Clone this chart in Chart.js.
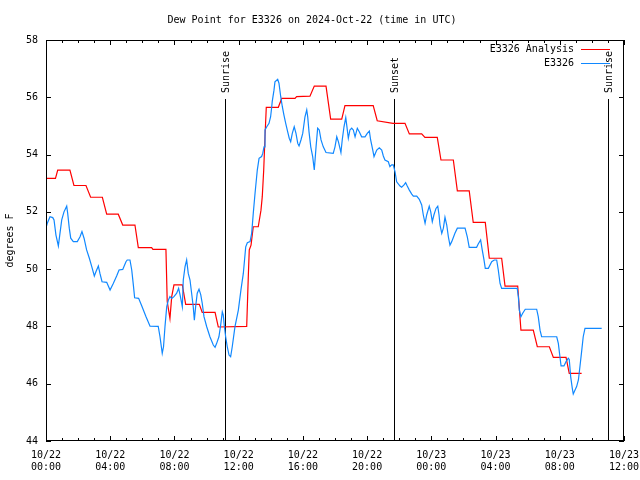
<!DOCTYPE html>
<html>
<head>
<meta charset="utf-8">
<script src="https://cdn.jsdelivr.net/npm/chart.js@4/dist/chart.umd.min.js"></script>
<style>
  html, body { margin: 0; padding: 0; background: #fff; }
  #chart { display: block; }
</style>
</head>
<body>
<canvas id="chart" width="640" height="480"></canvas>
<script>
// --- data (hours since 10/22 00:00 UTC, dew point in F) ---
const analysisHours = [0.00, 0.59, 0.73, 1.49, 1.74, 2.49, 2.78, 3.51, 3.78, 4.50, 4.78, 5.54, 5.75, 6.58, 6.66, 7.47,
  7.55, 7.72, 7.83, 7.97, 8.49, 8.70, 9.55, 9.73, 10.53, 10.73, 12.50, 12.56, 12.60, 12.66, 12.77, 12.91, 13.22,
  13.39, 13.47, 13.56, 13.64, 13.72, 14.47, 14.68, 15.51, 15.61, 16.44, 16.71, 17.44, 17.73, 18.42, 18.62, 20.38,
  20.63, 21.61, 22.36, 22.63, 23.40, 23.60, 24.37, 24.60, 25.37, 25.62, 26.36, 26.61, 27.36, 27.61, 28.38, 28.59,
  29.38, 29.58, 30.35, 30.60, 31.35, 31.60, 32.39, 32.59, 33.36];
const analysisValues = [53.17, 53.17, 53.46, 53.46, 52.92, 52.92, 52.51, 52.51, 51.92, 51.92, 51.54, 51.54, 50.75, 50.75, 50.69, 50.69,
  48.87, 48.28, 49.04, 49.45, 49.45, 48.77, 48.77, 48.49, 48.49, 47.98, 48.00, 49.04, 49.74, 50.67, 50.84, 51.48, 51.48,
  52.06, 52.53, 53.46, 54.62, 55.65, 55.65, 55.96, 55.96, 56.02, 56.04, 56.39, 56.39, 55.24, 55.24, 55.71, 55.71,
  55.18, 55.09, 55.09, 54.72, 54.72, 54.60, 54.60, 53.81, 53.81, 52.73, 52.73, 51.63, 51.63, 50.38, 50.38, 49.41,
  49.41, 47.87, 47.87, 47.29, 47.29, 46.92, 46.92, 46.36, 46.36];

const obsHours = [0.00, 0.08, 0.25, 0.42, 0.50, 0.62, 0.77, 0.87, 0.98, 1.12, 1.29, 1.35, 1.45, 1.54, 1.70, 1.95,
  2.12, 2.24, 2.37, 2.53, 2.70, 2.85, 3.01, 3.11, 3.26, 3.36, 3.49, 3.78, 3.99, 4.19, 4.40, 4.55, 4.78, 4.98, 5.06,
  5.23, 5.34, 5.44, 5.52, 5.77, 5.96, 6.23, 6.48, 6.99, 7.10, 7.24, 7.32, 7.41, 7.52, 7.62, 7.72, 7.83, 7.97, 8.14,
  8.26, 8.35, 8.49, 8.55, 8.66, 8.76, 8.86, 8.97, 9.07, 9.17, 9.24, 9.32, 9.42, 9.53, 9.64, 9.73, 9.84, 10.01, 10.21,
  10.42, 10.53, 10.63, 10.77, 10.88, 10.98, 11.04, 11.10, 11.19, 11.29, 11.40, 11.50, 11.60, 11.77, 11.98, 12.14,
  12.29, 12.44, 12.54, 12.71, 12.81, 12.91, 13.02, 13.16, 13.27, 13.43, 13.50, 13.58, 13.64, 13.75, 13.89, 13.99,
  14.06, 14.09, 14.20, 14.26, 14.43, 14.51, 14.62, 14.72, 14.82, 14.93, 15.05, 15.15, 15.24, 15.34, 15.46, 15.57,
  15.68, 15.76, 15.88, 15.99, 16.13, 16.24, 16.30, 16.38, 16.49, 16.61, 16.71, 16.82, 16.92, 17.02, 17.13, 17.27,
  17.44, 17.89, 18.00, 18.11, 18.21, 18.31, 18.37, 18.45, 18.56, 18.67, 18.73, 18.83, 18.93, 19.04, 19.14, 19.25,
  19.39, 19.51, 19.66, 19.87, 20.01, 20.14, 20.22, 20.35, 20.43, 20.60, 20.76, 20.91, 21.01, 21.11, 21.32, 21.42,
  21.53, 21.63, 21.74, 21.84, 22.05, 22.15, 22.30, 22.40, 22.50, 22.63, 22.78, 22.88, 23.09, 23.25, 23.40, 23.50,
  23.61, 23.71, 23.87, 23.96, 24.06, 24.16, 24.29, 24.40, 24.48, 24.54, 24.65, 24.75, 24.85, 24.96, 25.06, 25.16,
  25.27, 25.47, 25.62, 26.10, 26.24, 26.36, 26.82, 26.92, 27.07, 27.17, 27.28, 27.36, 27.55, 27.76, 27.92, 28.07,
  28.17, 28.28, 28.38, 29.35, 29.42, 29.48, 29.58, 29.69, 29.85, 30.56, 30.66, 30.77, 30.87, 31.81, 31.91, 32.01,
  32.08, 32.26, 32.39, 32.53, 32.59, 32.68, 32.78, 32.84, 32.95, 33.05, 33.16, 33.26, 33.36, 33.46, 33.57, 34.61];
const obsValues = [51.44, 51.60, 51.83, 51.80, 51.72, 51.19, 50.81, 51.25, 51.72, 52.00, 52.20, 51.95, 51.43, 51.08, 50.96, 50.96,
  51.13, 51.31, 51.08, 50.67, 50.38, 50.09, 49.76, 49.91, 50.11, 49.85, 49.56, 49.54, 49.27, 49.50, 49.76, 49.97, 49.99, 50.26, 50.32,
  50.32, 49.97, 49.45, 49.00, 48.98, 48.72, 48.34, 48.01, 48.00, 47.64, 47.06, 47.29, 47.99, 48.69, 48.92, 49.04, 48.98, 49.04, 49.16,
  49.33, 49.10, 48.69, 49.62, 50.09, 50.32, 49.85, 49.62, 49.16, 48.69, 48.22, 48.69, 49.16, 49.30, 49.10, 48.81, 48.34, 47.99, 47.64,
  47.35, 47.27, 47.41, 47.64, 48.05, 48.51, 48.40, 48.05, 47.64, 47.29, 47.00, 46.94, 47.29, 47.99, 48.57, 49.27,
  49.85, 50.78, 50.92, 50.96, 51.25, 51.95, 52.65, 53.46, 53.87, 53.93, 54.04, 54.27, 54.86, 54.97, 55.09, 55.32,
  55.67, 55.85, 56.25, 56.54, 56.63, 56.49, 56.02, 55.67, 55.38, 55.09, 54.80, 54.57, 54.45, 54.74, 54.97, 54.74,
  54.39, 54.30, 54.51, 54.74, 55.32, 55.56, 55.32, 54.80, 54.27, 53.93, 53.46, 54.27, 54.92, 54.86, 54.51, 54.27,
  54.07, 54.04, 54.27, 54.62, 54.45, 54.22, 54.07, 54.51, 54.97, 55.29, 55.03, 54.57, 54.86, 54.92, 54.86, 54.62,
  54.92, 54.80, 54.62, 54.62, 54.74, 54.82, 54.51, 54.16, 53.93, 54.16, 54.24, 54.16, 53.95, 53.81, 53.75, 53.58,
  53.64, 53.64, 53.40, 53.05, 52.90, 52.86, 52.94, 53.02, 52.90, 52.76, 52.62, 52.55, 52.55, 52.44, 52.24, 51.89,
  51.60, 51.89, 52.20, 52.01, 51.66, 51.89, 52.12, 52.20, 51.89, 51.54, 51.25, 51.43, 51.81, 51.54, 51.13, 50.84,
  50.96, 51.25, 51.43, 51.43, 51.13, 50.76, 50.76, 50.88, 51.02, 50.67, 50.32, 50.03, 50.03, 50.26, 50.32, 50.32,
  49.97, 49.50, 49.33, 49.33, 49.04, 48.57, 48.34, 48.46, 48.60, 48.60, 48.34, 47.87, 47.64, 47.64, 47.41, 46.94,
  46.62, 46.62, 46.77, 46.89, 46.85, 46.24, 45.84, 45.64, 45.78, 45.90, 46.13, 46.62, 47.12, 47.64, 47.93, 47.93];

const xTickLabels = [['10/22', '00:00'], ['10/22', '04:00'], ['10/22', '08:00'], ['10/22', '12:00'], ['10/22', '16:00'],
  ['10/22', '20:00'], ['10/23', '00:00'], ['10/23', '04:00'], ['10/23', '08:00'], ['10/23', '12:00']];
const sunEvents = ['Sunrise', 'Sunset', 'Sunrise'];
const sunHours = [11.15, 21.67, 35.0];
const seriesNames = ['E3326 Analysis', 'E3326'];

const FONT = '"DejaVu Sans Mono", "Liberation Mono", monospace';
const RED = '#ff0000';
const BLUE = '#1088ff';

// frame, inward ticks on all sides, sun markers and legend
const gnuplotDecor = {
  id: 'gnuplotDecor',
  beforeDatasetsDraw(chart) {
    const { ctx, chartArea: a, scales: { x, y } } = chart;
    ctx.save();
    ctx.strokeStyle = '#000';
    ctx.lineWidth = 1;
    ctx.beginPath();
    for (let h = 0; h <= 36; h++) {
      const px = Math.round(x.getPixelForValue(h)) + 0.5;
      const len = h % 4 === 0 ? 5 : 3;
      ctx.moveTo(px, a.bottom); ctx.lineTo(px, a.bottom - len);
      ctx.moveTo(px, a.top); ctx.lineTo(px, a.top + len);
    }
    for (let v = 44; v <= 58; v += 2) {
      const py = Math.round(y.getPixelForValue(v)) + 0.5;
      ctx.moveTo(a.left, py); ctx.lineTo(a.left + 5, py);
      ctx.moveTo(a.right, py); ctx.lineTo(a.right - 5, py);
    }
    ctx.stroke();

    // sunrise / sunset lines
    ctx.font = '10px ' + FONT;
    ctx.fillStyle = '#000';
    sunEvents.forEach((label, i) => {
      const px = Math.round(x.getPixelForValue(sunHours[i])) + 0.5;
      ctx.beginPath();
      ctx.moveTo(px, 99);
      ctx.lineTo(px, a.bottom);
      ctx.stroke();
      ctx.save();
      ctx.translate(px + 1, 93);
      ctx.rotate(-Math.PI / 2);
      ctx.textAlign = 'left';
      ctx.textBaseline = 'middle';
      ctx.fillText(label, 0, 0);
      ctx.restore();
    });
    ctx.restore();
  },
  afterDraw(chart) {
    const { ctx, chartArea: a } = chart;
    ctx.save();
    ctx.strokeStyle = '#000';
    ctx.lineWidth = 1;
    ctx.strokeRect(a.left + 0.5, a.top + 0.5, a.right - a.left - 1, a.bottom - a.top - 1);

    // legend
    ctx.font = '10px ' + FONT;
    ctx.textAlign = 'right';
    ctx.textBaseline = 'middle';
    ctx.fillStyle = '#000';
    [RED, BLUE].forEach((col, i) => {
      const ly = 49 + i * 14;
      ctx.fillText(seriesNames[i], 574, ly);
      ctx.strokeStyle = col;
      ctx.beginPath();
      ctx.moveTo(581, ly + 0.5);
      ctx.lineTo(610, ly + 0.5);
      ctx.stroke();
    });
    ctx.restore();
  }
};

new Chart(document.getElementById('chart'), {
  type: 'line',
  data: {
    datasets: [
      {
        label: seriesNames[1],
        data: obsHours.map((h, i) => ({ x: h, y: obsValues[i] })),
        borderColor: BLUE,
        borderWidth: 1.2,
        pointRadius: 0,
        tension: 0,
        order: 0
      },
      {
        label: seriesNames[0],
        data: analysisHours.map((h, i) => ({ x: h, y: analysisValues[i] })),
        borderColor: RED,
        borderWidth: 1.2,
        pointRadius: 0,
        tension: 0,
        order: 1
      }
    ]
  },
  options: {
    responsive: false,
    animation: false,
    devicePixelRatio: 1,
    layout: { padding: { left: 0, right: 16, top: 0, bottom: 0 } },
    plugins: {
      legend: { display: false },
      tooltip: { enabled: false },
      title: {
        display: true,
        text: 'Dew Point for E3326 on 2024-Oct-22 (time in UTC)',
        color: '#000',
        font: { family: FONT, size: 10, weight: 'normal' },
        padding: { top: 14, bottom: 14 }
      }
    },
    scales: {
      x: {
        type: 'linear',
        min: 0,
        max: 36,
        grid: { display: false, drawTicks: false },
        border: { display: false },
        ticks: {
          stepSize: 4,
          autoSkip: false,
          maxRotation: 0,
          padding: 8,
          color: '#000',
          font: { family: FONT, size: 10 },
          callback: v => xTickLabels[v / 4]
        },
        afterFit: s => { s.height = 39; s.paddingLeft = 0; s.paddingRight = 0; }
      },
      y: {
        min: 44,
        max: 58,
        grid: { display: false, drawTicks: false },
        border: { display: false },
        ticks: {
          stepSize: 2,
          padding: 8,
          color: '#000',
          font: { family: FONT, size: 10 }
        },
        title: {
          display: true,
          text: 'degrees F',
          color: '#000',
          font: { family: FONT, size: 10 },
          padding: { top: 4, bottom: 0 }
        },
        afterFit: s => { s.width = 46; s.paddingTop = 0; s.paddingBottom = 0; }
      }
    }
  },
  plugins: [gnuplotDecor]
});
</script>
</body>
</html>
